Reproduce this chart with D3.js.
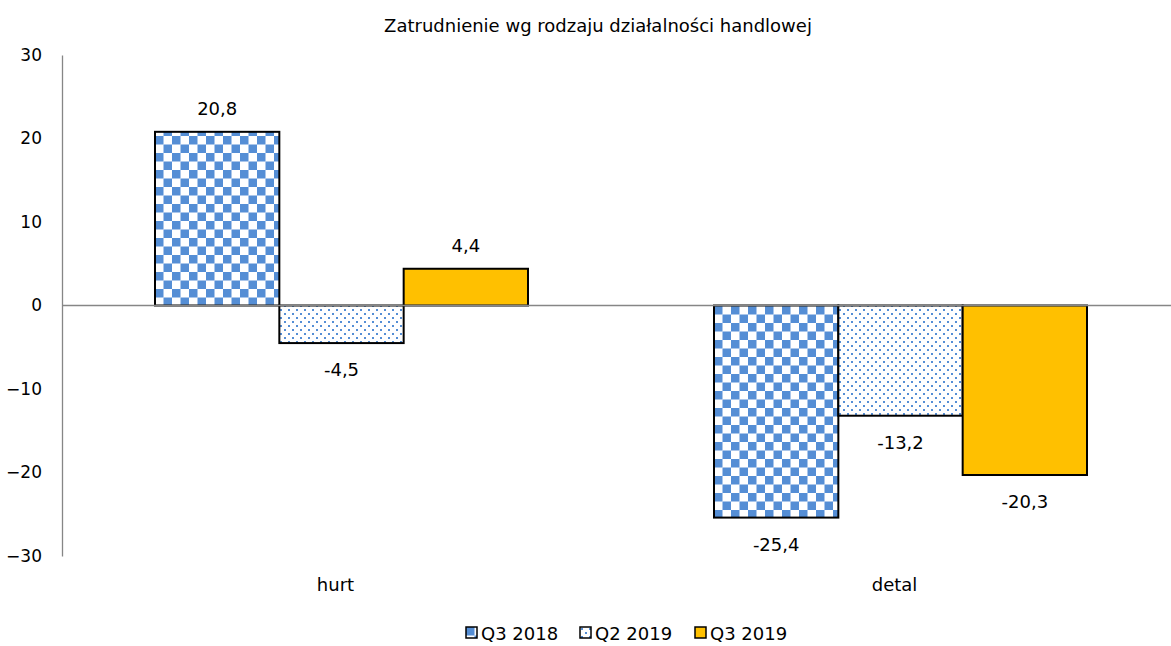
<!DOCTYPE html>
<html>
<head>
<meta charset="utf-8">
<script src="https://cdn.jsdelivr.net/npm/d3@7"></script>
<style>
  body { margin: 0; background: #fff; }
  text { font-family: "DejaVu Sans", sans-serif; fill: #000; }
</style>
</head>
<body>
<div id="chart"></div>
<script>
// data
const categories = ["hurt", "detal"];
const seriesNames = ["Q3 2018", "Q2 2019", "Q3 2019"];
const q3_2018 = [20.8, -25.4];
const q2_2019 = [-4.5, -13.2];
const q3_2019 = [4.4, -20.3];
const yTicks = [30, 20, 10, 0, -10, -20, -30];

const seriesValues = [q3_2018, q2_2019, q3_2019];

const svgWidth = 1171;
const svgHeight = 646;

const svg = d3.select("#chart")
    .append("svg")
    .attr("width", svgWidth)
    .attr("height", svgHeight);

// patterns
const defs = svg.append("defs");
const checker = defs.append("pattern")
    .attr("id", "checker")
    .attr("patternUnits", "userSpaceOnUse")
    .attr("width", 17).attr("height", 17);
checker.append("rect").attr("width", 17).attr("height", 17).attr("fill", "#fff");
checker.append("rect").attr("width", 8.5).attr("height", 8.5).attr("fill", "#558ed5");
checker.append("rect").attr("x", 8.5).attr("y", 8.5).attr("width", 8.5).attr("height", 8.5).attr("fill", "#558ed5");

const dots = defs.append("pattern")
    .attr("id", "dots")
    .attr("patternUnits", "userSpaceOnUse")
    .attr("width", 8).attr("height", 8);
dots.append("rect").attr("width", 8).attr("height", 8).attr("fill", "#fff");
dots.append("rect").attr("x", 1).attr("y", 1).attr("width", 2).attr("height", 2).attr("fill", "#558ed5");
dots.append("rect").attr("x", 5).attr("y", 5).attr("width", 2).attr("height", 2).attr("fill", "#558ed5");

const fills = ["url(#checker)", "url(#dots)", "#ffc000"];

// scales
const yScale = d3.scaleLinear()
    .domain([-30, 30])
    .range([556, 55]);

const xScale = d3.scaleBand()
    .domain(categories)
    .range([62, 1180])
    .padding(0);

const groupWidth = 373;
const xSub = d3.scaleBand()
    .domain(seriesNames)
    .range([0, groupWidth])
    .padding(0);

// title
svg.append("text")
    .attr("x", 598)
    .attr("y", 32)
    .attr("text-anchor", "middle")
    .attr("font-size", "18px")
    .text("Zatrudnienie wg rodzaju działalności handlowej");

// y axis
const leftAxis = d3.axisLeft(yScale)
    .tickValues(yTicks)
    .tickSize(0)
    .tickPadding(20)
    .tickFormat(d3.format("d"));

const yAxisG = svg.append("g")
    .attr("transform", "translate(62,0)")
    .call(leftAxis);
yAxisG.select(".domain").attr("stroke", "#868686").attr("stroke-width", 1.3);
yAxisG.selectAll("text")
    .attr("font-size", "17px")
    .style("font-family", "DejaVu Sans, sans-serif")
    .attr("fill", "#000");

// bars
const groups = svg.selectAll(".group")
    .data(categories)
    .enter()
    .append("g")
    .attr("transform", d => `translate(${xScale(d) + (xScale.bandwidth() - groupWidth) / 2},0)`);

groups.selectAll("rect")
    .data((c, ci) => seriesNames.map((s, si) => ({ s, si, v: seriesValues[si][ci] })))
    .enter()
    .append("rect")
    .attr("x", d => xSub(d.s))
    .attr("y", d => yScale(Math.max(0, d.v)))
    .attr("width", xSub.bandwidth())
    .attr("height", d => Math.abs(yScale(d.v) - yScale(0)))
    .attr("fill", d => fills[d.si])
    .attr("stroke", "#000")
    .attr("stroke-width", 2);

// zero line
svg.append("line")
    .attr("x1", 62).attr("x2", 1171)
    .attr("y1", yScale(0)).attr("y2", yScale(0))
    .attr("stroke", "#868686")
    .attr("stroke-width", 1.3);

// value labels
groups.selectAll(".val")
    .data((c, ci) => seriesNames.map((s, si) => ({ s, si, v: seriesValues[si][ci] })))
    .enter()
    .append("text")
    .attr("class", "val")
    .attr("x", d => xSub(d.s) + xSub.bandwidth() / 2)
    .attr("y", d => d.v >= 0 ? yScale(d.v) - 17 : yScale(d.v) + 33)
    .attr("text-anchor", "middle")
    .attr("font-size", "18px")
    .text(d => String(d.v).replace(".", ","));

// category labels
svg.selectAll(".cat")
    .data(categories)
    .enter()
    .append("text")
    .attr("class", "cat")
    .attr("x", d => xScale(d) + xScale.bandwidth() / 2 - 6)
    .attr("y", 591)
    .attr("text-anchor", "middle")
    .attr("font-size", "18px")
    .text(d => d);

// legend
const legendX = [466, 580, 695];
const legend = svg.selectAll(".legend")
    .data(seriesNames)
    .enter()
    .append("g")
    .attr("transform", (d, i) => `translate(${legendX[i]},627)`);

legend.append("rect")
    .attr("width", 11).attr("height", 11)
    .attr("fill", (d, i) => fills[i])
    .attr("stroke", "#000")
    .attr("stroke-width", 1.5);

legend.append("text")
    .attr("x", 15)
    .attr("y", 12.5)
    .attr("font-size", "18px")
    .text(d => d);
</script>
</body>
</html>
